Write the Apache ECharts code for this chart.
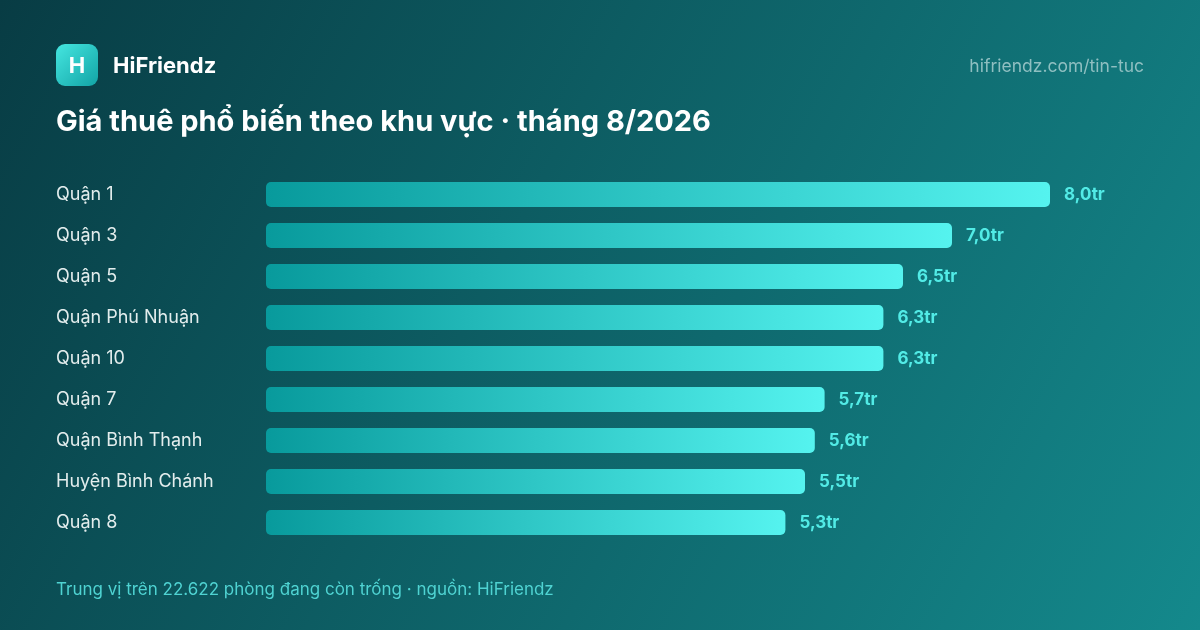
<!DOCTYPE html>
<html>
<head>
<meta charset="utf-8">
<script src="https://cdn.jsdelivr.net/npm/echarts@6/dist/echarts.min.js"></script>
<style>
html,body{margin:0;padding:0;width:1200px;height:630px;overflow:hidden;}
#c{width:1200px;height:630px;}
</style>
</head>
<body>
<div id="c"></div>
<script>
const categories = ["Quận 1","Quận 3","Quận 5","Quận Phú Nhuận","Quận 10","Quận 7","Quận Bình Thạnh","Huyện Bình Chánh","Quận 8"];
const values = [8.0, 7.0, 6.5, 6.3, 6.3, 5.7, 5.6, 5.5, 5.3];
const valueLabels = ["8,0tr","7,0tr","6,5tr","6,3tr","6,3tr","5,7tr","5,6tr","5,5tr","5,3tr"];
const titleText = "Giá thuê phổ biến theo khu vực · tháng 8/2026";
const brandText = "HiFriendz";
const urlText = "hifriendz.com/tin-tuc";
const footerText = "Trung vị trên 22.622 phòng đang còn trống · nguồn: HiFriendz";

const FONT = "Inter, 'Liberation Sans', sans-serif";
const chart = echarts.init(document.getElementById('c'), null, {renderer:'canvas'});
chart.setOption({
  backgroundColor: new echarts.graphic.LinearGradient(0,0,1,1,[
    {offset:0,color:'#083c44'},
    {offset:1,color:'#14898c'}
  ]),
  animation:false,
  grid:{left:266,right:150,top:174,height:369,containLabel:false},
  xAxis:{type:'value',min:0,max:8,show:false},
  yAxis:{
    type:'category',data:categories,inverse:true,
    axisLine:{show:false},axisTick:{show:false},splitLine:{show:false},
    axisLabel:{align:'left',margin:210,color:'#e3eded',fontSize:18,fontFamily:FONT}
  },
  series:[{
    type:'bar',data:values,barWidth:25,
    itemStyle:{
      borderRadius:5,
      color:new echarts.graphic.LinearGradient(0,0,1,0,[
        {offset:0,color:'#089a9c'},
        {offset:1,color:'#55f3ef'}
      ])
    },
    label:{
      show:true,position:'right',distance:14,
      formatter:p=>valueLabels[p.dataIndex],
      color:'#52ebe6',fontSize:17,fontWeight:'bold',fontFamily:FONT
    }
  }],
  graphic:[
    {type:'rect',shape:{x:56,y:44,width:42,height:42,r:9},
     style:{fill:new echarts.graphic.LinearGradient(0,0,1,1,[{offset:0,color:'#45e6e0'},{offset:1,color:'#12a4a6'}])}},
    {type:'text',x:77,y:66,style:{text:'H',fill:'#ffffff',font:"bold 22px "+FONT,align:'center',verticalAlign:'middle'}},
    {type:'text',x:113,y:66,style:{text:brandText,fill:'#ffffff',font:"bold 22px "+FONT,verticalAlign:'middle'}},
    {type:'text',x:1144,y:67,style:{text:urlText,fill:'#8fbfc1',font:"17.5px "+FONT,align:'right',verticalAlign:'middle'}},
    {type:'text',x:56,y:122,style:{text:titleText,fill:'#ffffff',font:"bold 29px "+FONT,verticalAlign:'middle'}},
    {type:'text',x:56,y:590,style:{text:footerText,fill:'#4fd3d2',font:"17px "+FONT,verticalAlign:'middle'}}
  ]
});
</script>
</body>
</html>
